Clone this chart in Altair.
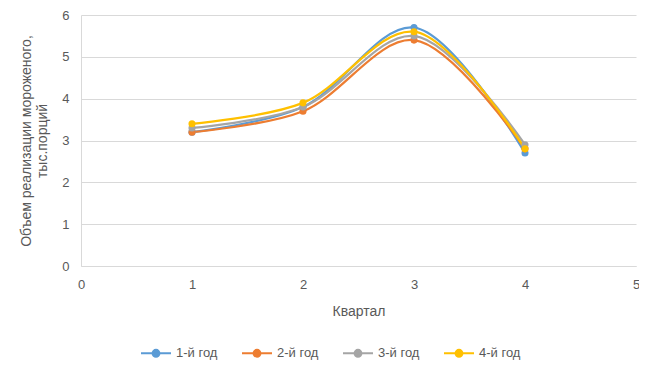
import altair as alt
import pandas as pd

quarters = [1, 2, 3, 4]
series_names = ["1-й год", "2-й год", "3-й год", "4-й год"]
year1 = [3.2, 3.8, 5.7, 2.7]
year2 = [3.2, 3.7, 5.4, 2.8]
year3 = [3.3, 3.8, 5.5, 2.9]
year4 = [3.4, 3.9, 5.6, 2.8]
colors = ["#5B9BD5", "#ED7D31", "#A5A5A5", "#FFC000"]

rows = []
for name, vals in zip(series_names, [year1, year2, year3, year4]):
    for q, v in zip(quarters, vals):
        rows.append({"Квартал": q, "Год": name, "Значение": v})
df = pd.DataFrame(rows)

FONT = "Liberation Sans"
color = alt.Color(
    "Год:N",
    scale=alt.Scale(domain=series_names, range=colors),
    legend=alt.Legend(
        title=None,
        orient="none",
        legendX=59,
        legendY=322,
        direction="horizontal",
        symbolType="M-1,0H1M0.23,0A0.23,0.23,0,1,1,-0.23,0A0.23,0.23,0,1,1,0.23,0Z",
        symbolSize=900,
        symbolStrokeWidth=2,
        labelFont=FONT,
        labelFontSize=13,
        labelColor="#595959",
        columnPadding=20,
        labelOffset=4,
    ),
)

x = alt.X(
    "Квартал:Q",
    scale=alt.Scale(domain=[0, 5], nice=False),
    axis=alt.Axis(
        values=[0, 1, 2, 3, 4, 5],
        title="Квартал",
        grid=False,
        ticks=False,
        labelFlush=False,
        domainColor="#D9D9D9",
        labelPadding=12,
        titlePadding=13,
        format="d",
    ),
)
y = alt.Y(
    "Значение:Q",
    scale=alt.Scale(domain=[0, 6], nice=False),
    axis=alt.Axis(
        values=[0, 1, 2, 3, 4, 5, 6],
        title=["Объем реализации мороженого,", "тыс.порций"],
        grid=True,
        gridColor="#D9D9D9",
        ticks=False,
        labelFlush=False,
        domainColor="#D9D9D9",
        labelPadding=12,
        titlePadding=12,
        format="d",
    ),
)

base = alt.Chart(df).encode(x=x, y=y, color=color, order="Квартал:Q")
lines = base.mark_line(interpolate="catmull-rom", strokeWidth=2.25)
points = base.mark_point(filled=True, size=50, opacity=1)

chart = (
    alt.layer(lines, points)
    .properties(
        width=555,
        height=251,
        padding={"left": 73, "top": 7, "right": 3, "bottom": 94},
        autosize=alt.AutoSizeParams(type="none"),
    )
    .configure_view(stroke=None)
    .configure_axis(
        labelFont=FONT,
        labelFontSize=13,
        labelColor="#595959",
        titleFont=FONT,
        titleFontSize=14,
        titleColor="#595959",
        titleFontWeight="normal",
    )
)

chart.save("out.html", embed_options={"renderer": "svg", "actions": False})
